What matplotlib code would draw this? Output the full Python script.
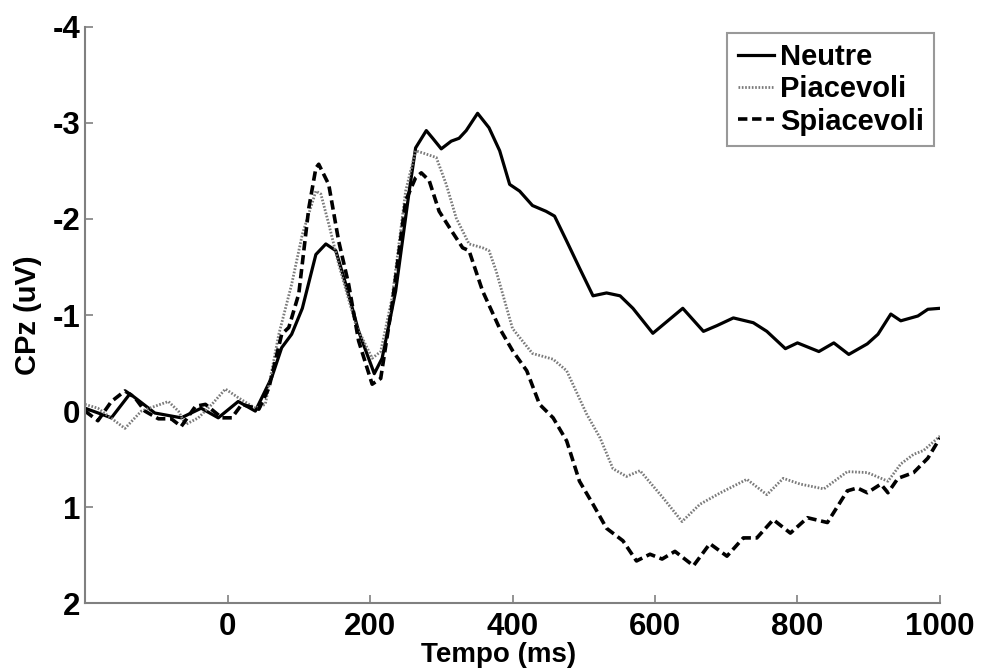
import matplotlib
matplotlib.use("Agg")
import matplotlib.pyplot as plt

# time (ms) and amplitude (uV)
t_neutre = [-200, -163, -137, -102, -65, -37, -13, 15, 39, 62, 76, 90, 105, 124, 138,
            152, 166, 184, 206, 217, 236, 255, 264, 279, 288, 300, 314, 325, 335, 351,
            367, 382, 396, 410, 428, 447, 459, 476, 494, 513, 532, 551, 569, 597, 639,
            668, 687, 710, 738, 757, 783, 800, 830, 851, 872, 898, 913, 931, 945, 969,
            983, 1000]
v_neutre = [-0.03, 0.07, -0.18, 0.02, 0.07, -0.03, 0.07, -0.10, 0.0, -0.35, -0.66, -0.8,
            -1.07, -1.63, -1.74, -1.67, -1.32, -0.83, -0.39, -0.55, -1.25, -2.29, -2.74,
            -2.92, -2.84, -2.73, -2.81, -2.84, -2.92, -3.10, -2.95, -2.71, -2.36, -2.29,
            -2.14, -2.08, -2.03, -1.77, -1.49, -1.2, -1.23, -1.2, -1.07, -0.81, -1.07,
            -0.83, -0.89, -0.97, -0.92, -0.83, -0.65, -0.71, -0.62, -0.71, -0.59, -0.70,
            -0.8, -1.01, -0.94, -0.99, -1.06, -1.07]

t_piace = [-200, -182, -144, -121, -83, -69, -59, -41, -22, -3, 15, 39, 53, 72, 90, 105,
           124, 131, 142, 156, 180, 203, 215, 231, 250, 264, 273, 293, 307, 321, 339,
           358, 367, 377, 400, 428, 457, 476, 504, 523, 541, 560, 579, 611, 638, 663,
           692, 729, 757, 780, 804, 837, 870, 898, 927, 945, 963, 977, 1000]
v_piace = [-0.07, -0.03, 0.18, 0.0, -0.1, 0.0, 0.14, 0.07, -0.07, -0.23, -0.14, -0.03,
           -0.07, -0.8, -1.32, -1.84, -2.29, -2.26, -1.95, -1.53, -0.9, -0.55, -0.62,
           -1.18, -2.29, -2.71, -2.69, -2.64, -2.36, -2.01, -1.74, -1.70, -1.67, -1.46,
           -0.86, -0.6, -0.54, -0.42, 0.03, 0.28, 0.6, 0.68, 0.62, 0.9, 1.15, 0.97, 0.85,
           0.71, 0.87, 0.70, 0.76, 0.81, 0.63, 0.64, 0.73, 0.55, 0.45, 0.41, 0.26]

t_spiace = [-200, -182, -163, -144, -130, -116, -97, -79, -65, -45, -31, -8, 6, 20, 44,
            58, 76, 86, 100, 114, 124, 128, 142, 156, 170, 184, 203, 215, 231, 250, 264,
            272, 283, 297, 315, 330, 339, 358, 382, 400, 420, 438, 457, 476, 494, 513,
            532, 555, 574, 593, 610, 628, 654, 677, 701, 724, 743, 766, 790, 814, 842,
            870, 884, 898, 917, 927, 941, 963, 983, 1000]
v_spiace = [0.0, 0.1, -0.1, -0.21, -0.14, 0.0, 0.08, 0.08, 0.16, -0.05, -0.07, 0.07,
            0.07, -0.07, -0.02, -0.24, -0.8, -0.87, -1.22, -2.11, -2.53, -2.57, -2.36,
            -1.77, -1.32, -0.73, -0.28, -0.34, -1.11, -2.19, -2.43, -2.48, -2.4, -2.08,
            -1.87, -1.70, -1.67, -1.25, -0.86, -0.63, -0.42, -0.07, 0.07, 0.31, 0.73,
            0.97, 1.22, 1.35, 1.56, 1.49, 1.54, 1.46, 1.61, 1.38, 1.51, 1.32, 1.32, 1.13,
            1.27, 1.11, 1.16, 0.83, 0.80, 0.85, 0.76, 0.85, 0.70, 0.64, 0.49, 0.28]

x_ticks = [0, 200, 400, 600, 800, 1000]
y_ticks = [-4, -3, -2, -1, 0, 1, 2]

plt.rcParams["font.family"] = ["Liberation Sans", "DejaVu Sans"]
plt.rcParams["font.weight"] = "bold"
plt.rcParams["axes.unicode_minus"] = False  # plain hyphen like the original

fig = plt.figure(figsize=(9.82, 6.71), dpi=100)
ax = fig.add_axes([0.0866, 0.101, 0.8706, 0.859])

ax.plot(t_neutre, v_neutre, color="black", lw=2.3, ls="-", label="Neutre")
ax.plot(t_piace, v_piace, color="#7a7a7a", lw=2.0, ls=(0, (0.6, 0.6)), label="Piacevoli")
ax.plot(t_spiace, v_spiace, color="black", lw=2.6, ls=(0, (2.6, 1.3)), label="Spiacevoli")

ax.set_xlim(-200, 1000)
ax.set_ylim(2, -4)
ax.set_xticks(x_ticks)
ax.set_yticks(y_ticks)
ax.tick_params(direction="in", length=6, width=1.2, color="#808080", labelsize=22.5)
ax.tick_params(axis="x", pad=6)
ax.tick_params(axis="y", pad=3.5)
for lab in ax.get_xticklabels() + ax.get_yticklabels():
    lab.set_fontweight("bold")

for s in ["top", "right"]:
    ax.spines[s].set_visible(False)
for s in ["left", "bottom"]:
    ax.spines[s].set_color("#808080")
    ax.spines[s].set_linewidth(1.5)

ax.set_xlabel("Tempo (ms)", fontsize=20, fontweight="bold")
ax.set_ylabel("CPz (uV)", fontsize=21, fontweight="bold")
ax.xaxis.set_label_coords(0.484, -0.068)
ax.yaxis.set_label_coords(-0.05, 0.5)

leg = ax.legend(loc="upper right", fontsize=21, handlelength=1.25, handletextpad=0.2,
                labelspacing=0.15, borderpad=0.35, borderaxespad=0.2, fancybox=False,
                frameon=True)
leg.get_frame().set_edgecolor("#808080")
leg.get_frame().set_linewidth(1.5)
for txt in leg.get_texts():
    txt.set_fontweight("bold")

fig.savefig("out.png", dpi=100)
